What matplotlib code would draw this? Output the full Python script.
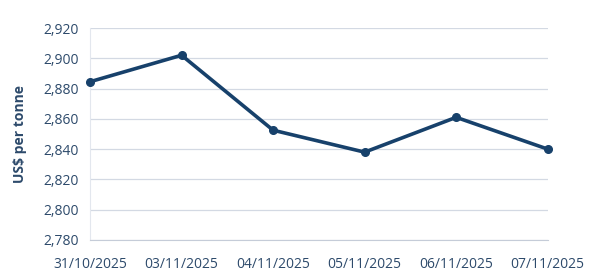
import matplotlib
matplotlib.use("Agg")
import matplotlib.pyplot as plt
from matplotlib.ticker import FuncFormatter

dates = ["31/10/2025", "03/11/2025", "04/11/2025", "05/11/2025", "06/11/2025", "07/11/2025"]
prices = [2884.5, 2902, 2852.5, 2838, 2861, 2840]
yticks = [2780, 2800, 2820, 2840, 2860, 2880, 2900, 2920]

plt.rcParams['font.family'] = ['Open Sans', 'DejaVu Sans']
text_color = "#2d4a6b"
line_color = "#17416b"
grid_color = "#d3d9e3"

fig = plt.figure(figsize=(5.96, 2.80), dpi=100)
ax = fig.add_axes([0.151, 0.143, 0.768, 0.757])
x = list(range(len(dates)))
ax.plot(x, prices, color=line_color, linewidth=2.6, marker='o', markersize=5.5, zorder=3, clip_on=False)
ax.set_xlim(0, len(dates) - 1)
ax.set_ylim(yticks[0], yticks[-1])
ax.set_yticks(yticks)
ax.yaxis.set_major_formatter(FuncFormatter(lambda v, p: f"{int(v):,}"))
ax.set_xticks(x)
ax.set_xticklabels(dates)
ax.grid(axis='y', color=grid_color, linewidth=0.9)
for s in ['top', 'right']:
    ax.spines[s].set_visible(False)
ax.spines['left'].set_color("#e3e7ee")
ax.spines['bottom'].set_color("#c5ccd8")
ax.tick_params(axis='both', length=0, colors=text_color, labelsize=10)
ax.tick_params(axis='y', pad=8)
ax.tick_params(axis='x', pad=12)
ax.set_ylabel("US$ per tonne", color=text_color, fontsize=10, fontweight='bold', labelpad=12)
fig.savefig("out.png", dpi=100)
